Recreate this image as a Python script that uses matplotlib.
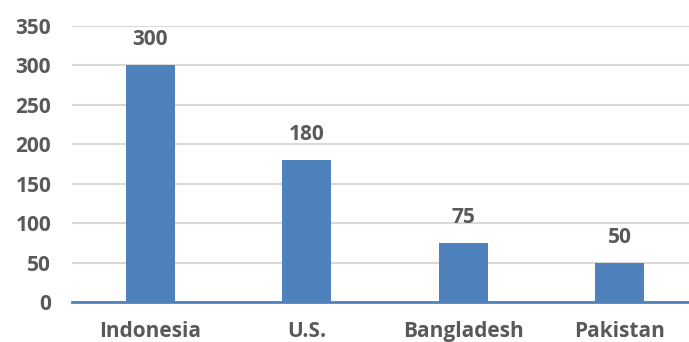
import matplotlib
matplotlib.use("Agg")
import matplotlib.pyplot as plt

countries = ["Indonesia", "U.S.", "Bangladesh", "Pakistan"]
values = [300, 180, 75, 50]
yticks = [0, 50, 100, 150, 200, 250, 300, 350]

plt.rcParams['font.family'] = ['Open Sans', 'DejaVu Sans']
txt = '#595959'
blue = '#4F81BD'
fs = 15

fig = plt.figure(figsize=(6.89, 3.42), dpi=100)
ax = fig.add_axes([72 / 689, 40 / 342, 1 - 72 / 689, 276 / 342])

x = range(len(countries))
ax.bar(x, values, width=0.31, color=blue, zorder=3)
for xi, v in zip(x, values):
    ax.text(xi, v + 19, str(v), ha='center', va='bottom', fontsize=fs,
            fontweight='bold', color=txt)

ax.set_ylim(0, 350)
ax.set_xlim(-0.5, (689 - 72) / 156.5 - 0.5)
ax.set_yticks(yticks)
ax.set_xticks(list(x))
ax.set_xticklabels(countries)
ax.yaxis.grid(True, color='#D9D9D9', linewidth=1.5, zorder=0)
ax.set_axisbelow(True)
for s in ['top', 'right', 'left']:
    ax.spines[s].set_visible(False)
ax.spines['bottom'].set_color(blue)
ax.spines['bottom'].set_linewidth(2)
ax.spines['bottom'].set_zorder(4)
ax.tick_params(axis='both', length=0, labelsize=fs, labelcolor=txt)
ax.tick_params(axis='x', pad=14)
ax.tick_params(axis='y', pad=15)
for lab in ax.get_xticklabels() + ax.get_yticklabels():
    lab.set_fontweight('bold')

fig.savefig("out.png", dpi=100)
